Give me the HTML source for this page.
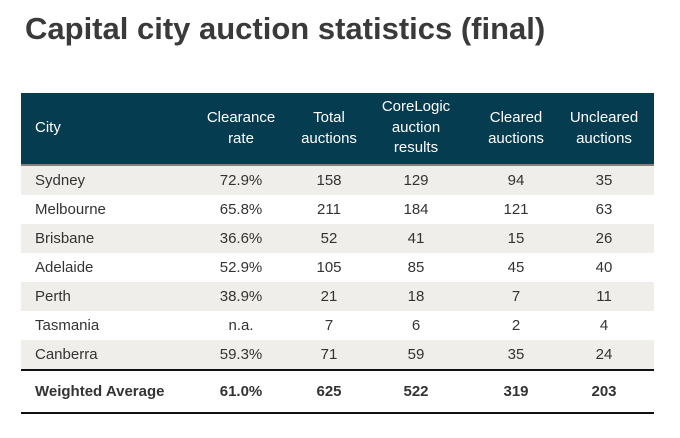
<!DOCTYPE html>
<html><head><meta charset="utf-8"><style>
body{margin:0;width:680px;height:438px;background:#fff;font-family:"Liberation Sans",sans-serif;position:relative;overflow:hidden}
.t{position:absolute;left:25px;top:11px;font-size:31px;font-weight:bold;color:#3a3a3a;margin:0}
.hdr{position:absolute;left:21px;top:93px;width:633px;height:71px;background:#063c50}
.hl{position:absolute;left:21px;top:164px;width:633px;height:2px;background:#8a8078}
.row{position:absolute;left:21px;width:633px;height:29px}
.c{position:absolute;transform:translateX(-50%);text-align:center;white-space:nowrap}
.h{color:#fff;font-size:15px;line-height:20.5px}
.d{font-size:15px;color:#333;line-height:29px;top:0}
.l{position:absolute;left:14px}
.bl{position:absolute;left:21px;width:633px;height:2px;background:#111}
</style></head><body>
<h1 class="t">Capital city auction statistics (final)</h1>
<div class="hdr">
<div class="h" style="position:absolute;left:14px;top:25px">City</div>
<div class="c h" style="left:220px;top:15px">Clearance<br>rate</div>
<div class="c h" style="left:308px;top:15px">Total<br>auctions</div>
<div class="c h" style="left:395px;top:4px">CoreLogic<br>auction<br>results</div>
<div class="c h" style="left:495px;top:15px">Cleared<br>auctions</div>
<div class="c h" style="left:583px;top:15px">Uncleared<br>auctions</div>
</div>
<div class="hl"></div>
<div id="rows"></div>
<div class="bl" style="top:369px"></div>
<div class="row" style="top:377px">
<div class="d l" style="font-weight:bold">Weighted Average</div>
<div class="c d" style="left:220px;font-weight:bold">61.0%</div>
<div class="c d" style="left:308px;font-weight:bold">625</div>
<div class="c d" style="left:395px;font-weight:bold">522</div>
<div class="c d" style="left:495px;font-weight:bold">319</div>
<div class="c d" style="left:583px;font-weight:bold">203</div>
</div>
<div class="bl" style="top:412px"></div>
<script>
const cities=["Sydney","Melbourne","Brisbane","Adelaide","Perth","Tasmania","Canberra"];
const clearance=["72.9%","65.8%","36.6%","52.9%","38.9%","n.a.","59.3%"];
const total=[158,211,52,105,21,7,71];
const corelogic=[129,184,41,85,18,6,59];
const cleared=[94,121,15,45,7,2,35];
const uncleared=[35,63,26,40,11,4,24];
const centers=[220,308,395,495,583];
const host=document.getElementById('rows');
cities.forEach((c,i)=>{
 const r=document.createElement('div');
 r.className='row';
 r.style.top=(166+29*i)+'px';
 if(i%2===0)r.style.background='#efeeea';
 
 
 const n=document.createElement('div');
 n.className='d l';n.textContent=c;
 
 
 r.appendChild(n);
 const vals=[clearance[i],total[i],corelogic[i],cleared[i],uncleared[i]];
 vals.forEach((v,j)=>{
  const d=document.createElement('div');
  d.className='c d';d.style.left=centers[j]+'px';d.textContent=v;
  
  
  r.appendChild(d);
 });
 host.appendChild(r);
});
</script>
</body></html>
